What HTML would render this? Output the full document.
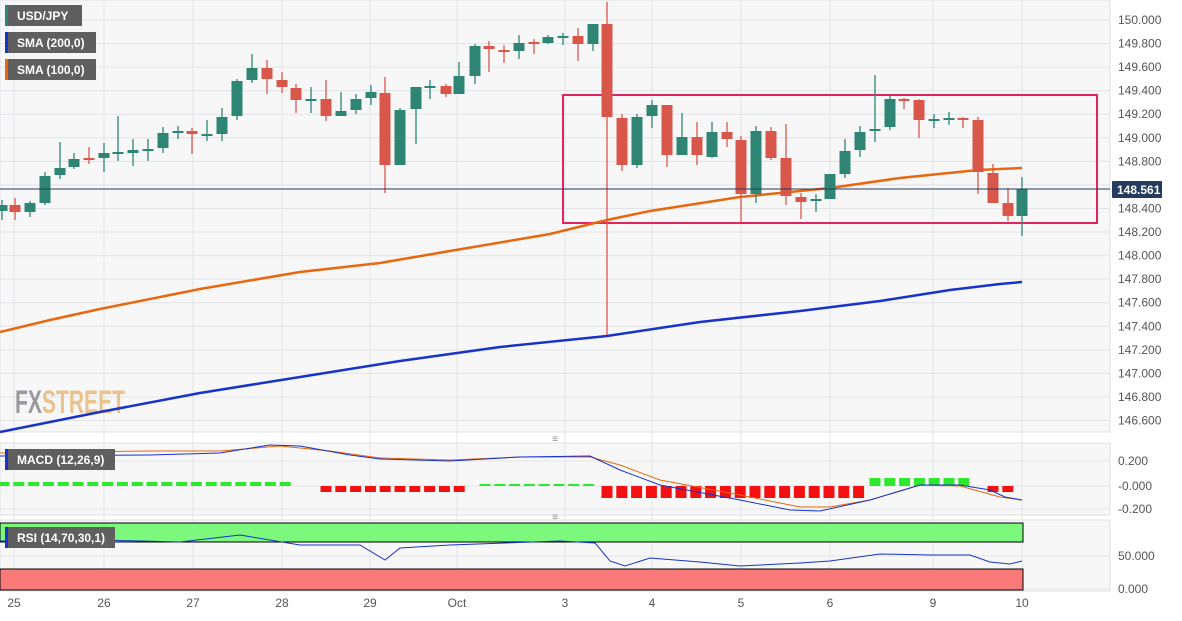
<!DOCTYPE html>
<html><head><meta charset="utf-8"><style>
body{margin:0;background:#fff;width:1182px;height:616px;overflow:hidden;font-family:"Liberation Sans",sans-serif}
svg text{font-family:"Liberation Sans",sans-serif}
</style></head><body>
<svg id="s" width="1182" height="616" xmlns="http://www.w3.org/2000/svg"></svg>
<script>
const s=document.getElementById('s');let h='';
h+='<rect x="0" y="0" width="1110" height="432" fill="#f7f7f8" stroke="#dde0e5"/>';
h+='<rect x="0" y="443" width="1110" height="72" fill="#f7f7f8" stroke="#dde0e5"/>';
h+='<rect x="0" y="520" width="1110" height="71" fill="#f7f7f8" stroke="#dde0e5"/>';
const xs=[[14,'25'],[104,'26'],[193,'27'],[282,'28'],[370,'29'],[457,'Oct'],[565,'3'],[652,'4'],[741,'5'],[830,'6'],[933,'9'],[1022,'10']];
for(const [x,l] of xs){h+=`<line x1="${x}" y1="0" x2="${x}" y2="591" stroke="#e2e4e8"/>`;
h+=`<text x="${x}" y="607" font-size="12" fill="#555" text-anchor="middle">${l}</text>`;}
const Y=p=>20+(150-p)*117.8;
for(let i=0;i<18;i++){const p=150-i*0.2,y=Y(p);h+=`<line x1="0" y1="${y}" x2="1110" y2="${y}" stroke="#e2e4e8"/>`;
if(Math.abs(p-148.6)>0.05)h+=`<text x="1118" y="${y+4}" font-size="12" fill="#555">${p.toFixed(3)}</text>`;}
for(const [y,l] of [[461,'0.200'],[486,'-0.000'],[509,'-0.200']]){h+=`<line x1="0" y1="${y}" x2="1110" y2="${y}" stroke="#e2e4e8"/><text x="1118" y="${y+4}" font-size="12" fill="#555">${l}</text>`;}
for(const [y,l] of [[556,'50.000'],[589,'0.000']]){h+=`<line x1="0" y1="${y}" x2="1110" y2="${y}" stroke="#e2e4e8"/><text x="1118" y="${y+4}" font-size="12" fill="#555">${l}</text>`;}
h+='<text x="15" y="413" font-size="32" font-weight="bold" fill="#9a9a9e" textLength="110" lengthAdjust="spacingAndGlyphs">FX<tspan fill="#eac28e">STREET</tspan></text>';
h+='<rect x="563" y="95" width="534" height="128" fill="none" stroke="#e0245e" stroke-width="2"/>';
const line=(pts,c,w)=>`<polyline fill="none" stroke="${c}" stroke-width="${w}" points="${pts.map(p=>p.join(',')).join(' ')}"/>`;
h+=line([[0,432],[100,412],[200,393],[300,377],[400,361],[500,347],[607,336],[700,322],[800,311],[880,301],[950,290],[1000,284],[1022,282]],'#1733c9',2.5);
h+=line([[0,332],[50,320],[100,309],[200,289],[300,272],[380,263],[450,251],[550,234],[607,220],[650,211],[740,197],[830,188],[900,178],[978,170],[1022,168]],'#e8670f',2.5);
const C=[[2,211,205,200,220],[15,205,212,198,220],[30,212,203,201,217],[45,203,176,172,205],[60,175,168,142,179],[74,167,159,153,169],[89,158,160,147,164],[104,158,153,143,172],[118,153,152,116,161],[133,153,150,139,166],[148,150,149,139,161],[163,148,133,127,153],[178,133,131,126,139],[192,131,134,128,154],[207,135,134,120,141],[222,134,117,108,141],[237,116,81,79,120],[252,80,68,54,83],[267,68,79,60,94],[282,80,87,72,93],[296,88,100,84,113],[311,100,99,87,113],[326,99,116,80,121],[341,116,111,92,114],[356,110,99,94,114],[371,98,92,85,105],[385,93,165,77,193],[400,165,110,108,144],[416,109,87,87,144],[430,88,86,80,99],[446,86,94,84,97],[459,94,76,62,94],[475,76,46,44,84],[489,46,49,41,72],[504,50,51,45,63],[519,51,43,35,59],[534,42,44,39,54],[548,43,37,35,44],[563,37,36,33,45],[578,36,44,28,61],[593,44,24,24,51],[607,24,117,2,335],[622,118,165,114,171],[637,165,117,114,168],[652,116,105,100,128],[667,105,155,105,167],[682,155,137,113,155],[697,137,155,122,165],[712,157,132,122,158],[727,132,139,122,147],[741,140,194,136,222],[756,194,131,126,203],[771,131,158,127,160],[786,158,196,124,205],[801,197,202,193,219],[816,201,199,194,212],[830,199,174,174,199],[845,174,151,139,178],[860,150,132,126,157],[875,131,129,75,142],[890,127,99,96,130],[904,99,100,98,109],[919,100,120,99,138],[934,120,119,114,128],[949,119,118,112,125],[963,118,120,117,128],[978,120,172,117,194],[993,173,203,164,203],[1008,203,216,188,221],[1022,216,189,177,236]];
for(const [x,o,c,hi,lo] of C){const col=c<o?'#2e8573':(c>o?'#d9574a':'#2e8573');
h+=`<line x1="${x}" y1="${hi}" x2="${x}" y2="${lo}" stroke="${col}" stroke-width="1.3"/>`;
h+=`<rect x="${x-5.5}" y="${Math.min(o,c)}" width="11" height="${Math.max(2,Math.abs(c-o))}" fill="${col}"/>`;}
h+='<line x1="0" y1="189" x2="1110" y2="189" stroke="#243a5e" stroke-width="1"/>';
h+='<rect x="1112" y="181" width="50" height="17" fill="#243a5e" rx="1"/><text x="1117" y="194" font-size="12" font-weight="bold" fill="#fff">148.561</text>';
const hb=(x1,x2,y1,y2,c)=>{let r='';for(let x=x1;x<=x2;x+=14.8){r+=`<rect x="${x-5.5}" y="${y1}" width="11" height="${y2-y1}" fill="${c}"/>`;}return r;};
h+=hb(4,290,482,486,'#2ee82e');h+=hb(326,460,486,492,'#f21010');h+=hb(485,590,484,486,'#2ee82e');
h+=hb(607,860,486,498,'#f21010');h+=hb(875,975,478,486,'#2ee82e');h+=hb(993,1022,486,492,'#f21010');
h+=line([[0,453],[150,451],[220,451],[280,446],[330,451],[380,458],[450,460],[520,457],[590,457],[620,465],[660,480],[740,495],[800,507],[830,507],[870,500],[920,485],[960,486],[1000,497],[1022,500]],'#e8670f',1);
h+=line([[0,456],[150,455],[220,453],[270,445],[300,446],[350,455],[380,459],[450,461],[520,457],[590,456],[620,470],[660,485],[740,500],[790,510],[820,511],[870,500],[920,485],[960,485],[990,490],[1005,497],[1022,500]],'#1733c9',1);
h+='<rect x="0" y="523" width="1023" height="19" fill="#7cf87c" stroke="#000"/>';
h+='<rect x="0" y="569" width="1023" height="21" fill="#fa7a7a" stroke="#000"/>';
h+=line([[0,541],[100,540],[180,542],[240,535],[300,545],[360,545],[385,560],[400,548],[450,545],[560,541],[595,543],[610,561],[625,566],[650,558],[700,562],[740,566],[800,563],[830,561],[880,554],[930,555],[970,555],[990,562],[1010,564],[1022,561]],'#1733c9',1);
h+='<text x="555" y="442" font-size="10" fill="#888" text-anchor="middle">≡</text><text x="555" y="520" font-size="10" fill="#888" text-anchor="middle">≡</text>';
const lg=(y,w,c,t)=>`<rect x="5" y="${y}" width="${w}" height="21" fill="#5f5f5f"/><rect x="5" y="${y}" width="3" height="21" fill="${c}"/><text x="17" y="${y+15}" font-size="12" font-weight="bold" fill="#fff">${t}</text>`;
h+=lg(5,77,'#2e8573','USD/JPY');h+=lg(32,91,'#1733c9','SMA (200,0)');h+=lg(59,91,'#e8670f','SMA (100,0)');
h+=lg(449,110,'#1733c9','MACD (12,26,9)');h+=lg(527,110,'#1733c9','RSI (14,70,30,1)');
s.innerHTML=h;
</script>
</body></html>
